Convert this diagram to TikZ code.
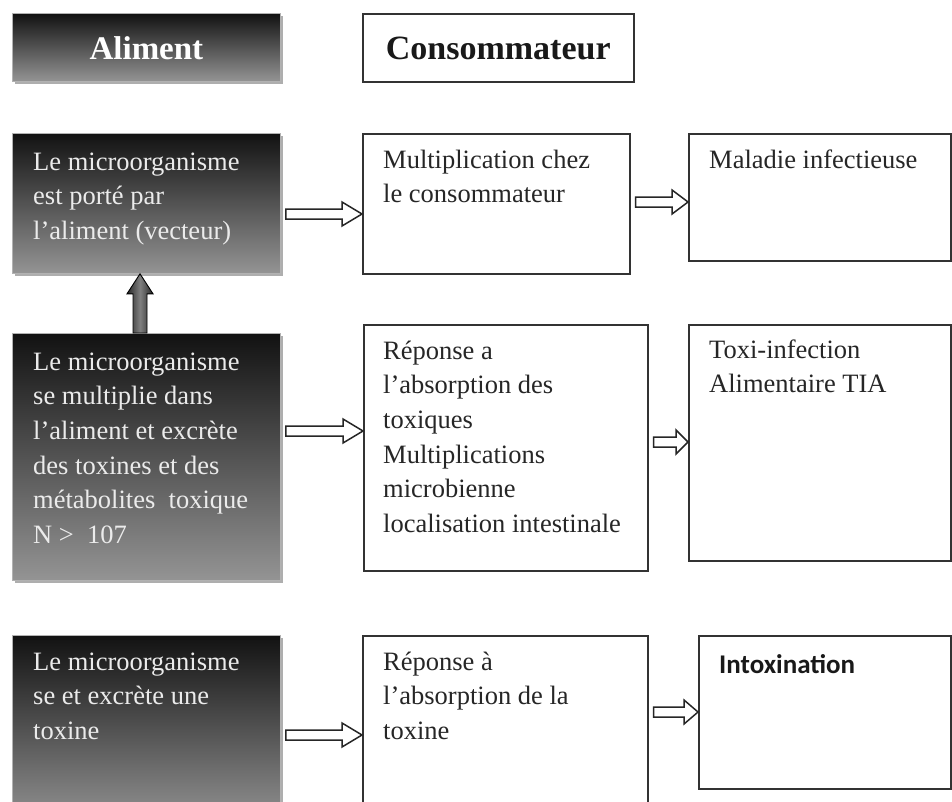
\documentclass[tikz,border=0pt]{standalone}
\usepackage{fontspec}
\setmainfont{Liberation Serif}
\newfontfamily\labelsans{Carlito}
\usetikzlibrary{calc,shadows}

% lines of a multi-line label; the baseline is that of the first line
\newcommand\stacklines[1]{\vtop{\baselineskip=34.7pt\lineskiplimit=-100pt #1}}

% outlined block arrow from one box to the next at height #3, head length #4
\newcommand\hollowarrow[4]{%
  \draw[hollow] let \p1=($(#1.east)+(5,0)$), \p2=(#2.west), \p3=(0,#3) in
    (\x1,{\y3+5pt}) -- ({\x2-#4},{\y3+5pt}) -- ({\x2-#4},{\y3+12pt}) --
    (\x2,\y3) -- ({\x2-#4},{\y3-12pt}) -- ({\x2-#4},{\y3-5pt}) --
    (\x1,{\y3-5pt}) -- cycle;}

\tikzset{
  x=1pt, y=-1pt,
  darkbox/.style={anchor=north west, inner sep=0pt, draw=black!30, line width=0.8pt,
    top color=black!93, bottom color=black!42,
    drop shadow={shadow xshift=3pt, shadow yshift=-3pt, fill=black!45, opacity=0.7}},
  whitebox/.style={anchor=north west, inner sep=0pt, draw=black!80, line width=1.5pt, fill=white},
  lighttext/.style={anchor=base west, inner sep=0pt, text=white!92!black,
    font=\fontsize{26.5}{34.7}\selectfont},
  darktext/.style={anchor=base west, inner sep=0pt, text=black!85,
    font=\fontsize{26.5}{34.7}\selectfont},
  hollow/.style={draw=black!85, line width=1.5pt, fill=white, line join=miter},
  solidarrow/.style={draw=black, line width=0.9pt, left color=black!85, right color=black!85,
    middle color=black!50},
}

\begin{document}
\begin{tikzpicture}
\useasboundingbox (0,0) rectangle (952,801);
\clip (0,0) rectangle (952,801);
\fill[white] (0,0) rectangle (952,801);

% column headers
\node[darkbox, minimum width=268pt, minimum height=68pt] (al) at (12,13) {};
\node[text=white, font=\bfseries\fontsize{33}{36}\selectfont] (alt) at ($(al.center)+(0,1)$) {Aliment};
\node[whitebox, minimum width=271pt, minimum height=68pt] (co) at (362,13) {};
\node[text=black!90, font=\bfseries\fontsize{34}{36}\selectfont] (cot) at ($(co.center)+(0,1)$) {Consommateur};

% food side
\node[darkbox, minimum width=268pt, minimum height=140pt] (d1) at (12,133) {};
\node[darkbox, minimum width=268pt, minimum height=247pt] (d2) at (12,333) {};
\node[darkbox, minimum width=268pt, minimum height=190pt] (d3) at (12,635) {};

\node[lighttext] (d1t) at (33,170) {\stacklines{\hbox{Le microorganisme}\hbox{est porté par}\hbox{l’aliment (vecteur)}}};
\node[lighttext] (d2t) at (33,370) {\stacklines{\hbox{Le microorganisme}\hbox{se multiplie dans}\hbox{l’aliment et excrète}\hbox{des toxines et des}\hbox{métabolites~ toxique}\hbox{N >~ 107}}};
\node[lighttext] (d3t) at (33,670) {\stacklines{\hbox{Le microorganisme}\hbox{se et excrète une}\hbox{toxine}}};

% consumer response
\node[whitebox, minimum width=267pt, minimum height=140pt] (m1) at (362,133) {};
\node[whitebox, minimum width=284pt, minimum height=246pt] (m2) at (363,324) {};
\node[whitebox, minimum width=285pt, minimum height=190pt] (m3) at (362,635) {};

\node[darktext] (m1t) at (383,168) {\stacklines{\hbox{Multiplication chez}\hbox{le consommateur}}};
\node[darktext] (m2t) at (383,359) {\stacklines{\hbox{Réponse a}\hbox{l’absorption des}\hbox{toxiques}\hbox{Multiplications}\hbox{microbienne}\hbox{localisation intestinale}}};
\node[darktext] (m3t) at (383,670) {\stacklines{\hbox{Réponse à}\hbox{l’absorption de la}\hbox{toxine}}};

% outcomes
\node[whitebox, minimum width=262pt, minimum height=127pt] (f1) at (688,133) {};
\node[whitebox, minimum width=262pt, minimum height=236pt] (f2) at (688,324) {};
\node[whitebox, minimum width=252pt, minimum height=153pt] (f3) at (698,635) {};

\node[darktext] (f1t) at (709,168) {Maladie infectieuse};
\node[darktext] (f2t) at (709,358) {\stacklines{\hbox{Toxi-infection}\hbox{Alimentaire TIA}}};
\node[darktext, text=black!90, font=\labelsans\bfseries\fontsize{27}{30}\selectfont] (f3t) at (719,673) {Intoxination};

% connectors
\hollowarrow{d1}{m1}{214}{20pt}
\hollowarrow{m1}{f1}{202}{16pt}
\hollowarrow{d2}{m2}{431}{20pt}
\hollowarrow{m2}{f2}{442}{12pt}
\hollowarrow{d3}{m3}{735}{20pt}
\hollowarrow{m3}{f3}{712}{14pt}

\draw[solidarrow] let \p1=(d1.south), \p2=(d2.north) in
  (140pt,\y1) -- (153pt,{\y1-20pt}) -- (147pt,{\y1-20pt}) -- (147pt,\y2) --
  (133pt,\y2) -- (133pt,{\y1-20pt}) -- (127pt,{\y1-20pt}) -- cycle;
\end{tikzpicture}
\end{document}
